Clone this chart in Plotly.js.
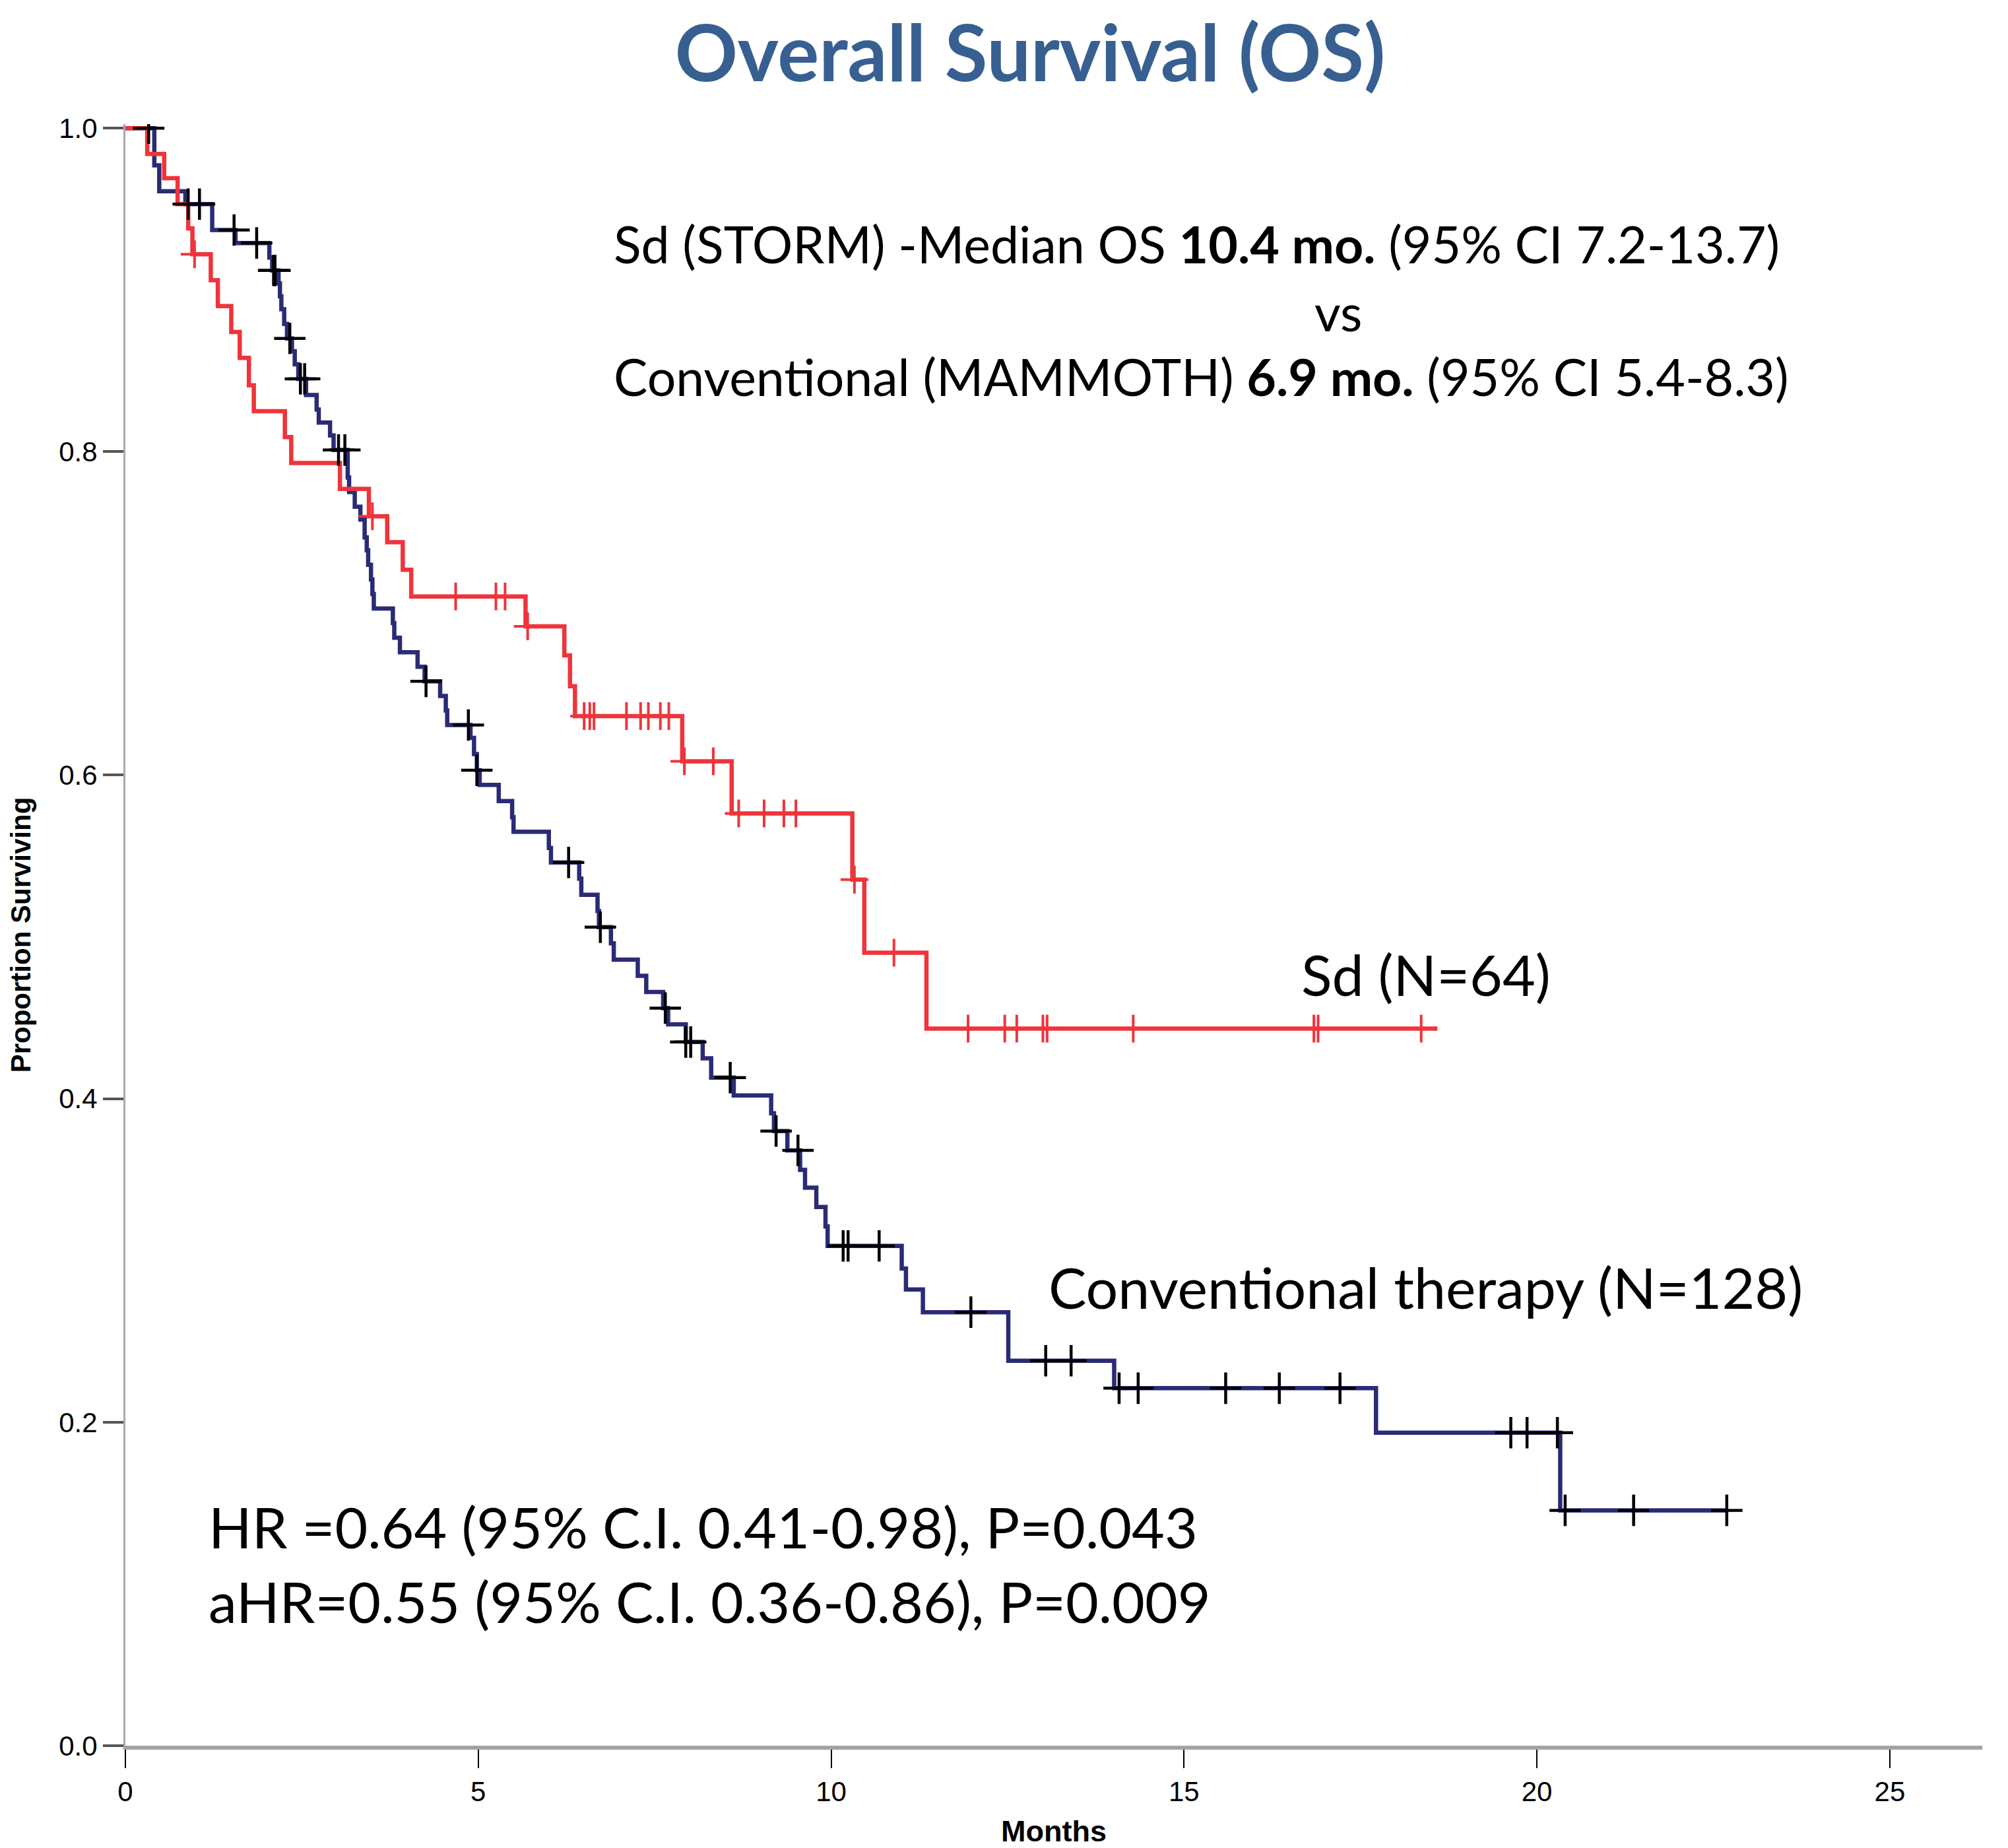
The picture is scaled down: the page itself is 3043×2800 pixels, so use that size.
<!DOCTYPE html>
<html>
<head>
<meta charset="utf-8">
<script src="https://cdn.plot.ly/plotly-3.0.1.min.js"></script>
<style>html,body{margin:0;padding:0;background:#fff}</style>
</head>
<body>
<div id="chart" style="width:3043px;height:2800px"></div>
<script>
// ---- axis ticks ----
const monthTicks = [0, 5, 10, 15, 20, 25];
const monthTickLabels = ['0', '5', '10', '15', '20', '25'];
const survTicks = [0, 0.2, 0.4, 0.6, 0.8, 1.0];
const survTickLabels = ['0.0', '0.2', '0.4', '0.6', '0.8', '1.0'];

// ---- Sd (STORM), N=64 : event times (months) and survival after each step ----
const sdTimes = [0.31, 0.55, 0.74, 0.89, 0.95, 1.21, 1.31, 1.50, 1.62, 1.75, 1.82, 2.26, 2.35,
  3.04, 3.45, 3.71, 3.93, 4.05, 5.67, 6.22, 6.30, 6.37, 7.89, 8.59, 10.30, 10.47, 11.35];
const sdSurv = [0.984, 0.969, 0.953, 0.938, 0.922, 0.906, 0.890, 0.874, 0.858, 0.841, 0.825, 0.809, 0.793,
  0.777, 0.760, 0.744, 0.727, 0.7105, 0.692, 0.674, 0.655, 0.6365, 0.6086, 0.5763, 0.5354, 0.4902, 0.4433];
const sdLastFollowUp = 18.59;
const sdCensorTimes = [0.98, 3.50, 4.68, 5.25, 5.38, 5.70, 6.50, 6.58, 6.64, 7.10, 7.30, 7.41, 7.58, 7.70,
  7.92, 8.33, 8.69, 9.05, 9.33, 9.50, 10.33, 10.89, 11.94, 12.46, 12.63, 13.00, 13.06, 14.28, 16.84, 16.90, 18.36];

// ---- Conventional therapy (MAMMOTH), N=128 ----
const convTimes = [0.41, 0.48, 0.85, 1.23, 1.56, 2.04, 2.08, 2.17, 2.19, 2.21, 2.25, 2.29, 2.36, 2.40, 2.45,
  2.56, 2.71, 2.74, 2.90, 2.95, 3.15, 3.17, 3.25, 3.33, 3.39, 3.42, 3.44, 3.48, 3.50, 3.52,
  3.79, 3.81, 3.89, 4.14, 4.24, 4.46, 4.54, 4.56, 4.89, 4.94, 4.98, 5.02, 5.29, 5.48, 5.50,
  6.00, 6.03, 6.43, 6.46, 6.69, 6.71, 6.88, 6.92, 7.26, 7.38, 7.62, 7.69, 7.94, 8.18, 8.30,
  8.62, 9.15, 9.19, 9.38, 9.56, 9.63, 9.79, 9.92, 9.95, 11.00, 11.06, 11.30, 12.51, 14.01, 17.72, 20.33];
const convSurv = [0.977, 0.961, 0.953, 0.937, 0.929, 0.920, 0.912, 0.904, 0.896, 0.888, 0.879, 0.870, 0.862, 0.854, 0.845,
  0.835, 0.826, 0.818, 0.810, 0.801, 0.784, 0.775, 0.766, 0.758, 0.747, 0.739, 0.730, 0.721, 0.712, 0.703,
  0.694, 0.685, 0.676, 0.667, 0.658, 0.649, 0.640, 0.631, 0.623, 0.613, 0.603, 0.594, 0.584, 0.574, 0.565,
  0.555, 0.546, 0.536, 0.526, 0.516, 0.506, 0.496, 0.486, 0.476, 0.466, 0.456, 0.446, 0.435, 0.425, 0.413,
  0.402, 0.391, 0.380, 0.368, 0.356, 0.345, 0.333, 0.321, 0.309, 0.295, 0.282, 0.268, 0.238, 0.221, 0.1935, 0.1455];
const convLastFollowUp = 22.71;
const convCensorTimes = [0.33, 0.89, 1.05, 1.54, 1.86, 2.10, 2.12, 2.33, 2.48, 2.54, 3.02, 3.11, 4.26, 4.86, 4.98,
  6.28, 6.73, 7.65, 7.94, 8.01, 8.57, 9.22, 9.53, 10.17, 10.24, 10.68, 11.98, 13.04, 13.40,
  14.08, 14.35, 15.59, 16.35, 17.21, 19.63, 19.86, 20.29, 20.40, 21.37, 22.69];

// ---- helpers: build KM step path and look up survival at censor times ----
function stepPath(times, surv, endTime) {
  return { x: [0].concat(times, [endTime]), y: [1].concat(surv, [surv[surv.length - 1]]) };
}
function survAt(times, surv, t) {
  let s = 1;
  for (let i = 0; i < times.length; i++) { if (times[i] <= t) s = surv[i]; }
  return s;
}

const RED = '#EF343B';
const NAVY = '#2A2B76';
const sdPath = stepPath(sdTimes, sdSurv, sdLastFollowUp);
const convPath = stepPath(convTimes, convSurv, convLastFollowUp);

const traces = [
  { x: convPath.x, y: convPath.y, type: 'scatter', mode: 'lines',
    line: { shape: 'hv', color: NAVY, width: 6.5 }, hoverinfo: 'skip', showlegend: false },
  { x: sdPath.x, y: sdPath.y, type: 'scatter', mode: 'lines',
    line: { shape: 'hv', color: RED, width: 6.5 }, hoverinfo: 'skip', showlegend: false },
  { x: sdCensorTimes, y: sdCensorTimes.map(t => survAt(sdTimes, sdSurv, t)), type: 'scatter', mode: 'markers',
    marker: { symbol: 'cross-thin', size: 30, line: { color: RED, width: 4 } }, showlegend: false },
  { x: convCensorTimes, y: convCensorTimes.map(t => survAt(convTimes, convSurv, t)), type: 'scatter', mode: 'markers',
    marker: { symbol: 'cross-thin', size: 34, line: { color: '#000000', width: 4.5 } }, showlegend: false }
];

const ANN_FONT = { family: 'Lato, Calibri, "Open Sans", sans-serif', size: 86, color: '#000000' };
const TOP_FONT = { family: 'Lato, Calibri, "Open Sans", sans-serif', size: 77, color: '#000000' };
const AX_FONT = 'Liberation Sans, Arial, sans-serif';

const layout = {
  width: 3043, height: 2800,
  paper_bgcolor: '#ffffff', plot_bgcolor: '#ffffff',
  margin: { l: 190, r: 39, t: 188, b: 155 },
  title: {
    text: '<b>Overall Survival (OS)</b>',
    font: { family: 'Lato, Calibri, sans-serif', size: 118, color: '#375F92' },
    x: 0.513, xref: 'container', xanchor: 'center',
    y: 0.9707, yref: 'container', yanchor: 'middle'
  },
  xaxis: {
    range: [0, 26.31], tickvals: monthTicks, ticktext: monthTickLabels,
    showgrid: false, zeroline: false, showline: true, linecolor: '#a3a3a3', linewidth: 6,
    ticks: 'outside', ticklen: 28, tickwidth: 2, tickcolor: '#000000',
    tickfont: { family: AX_FONT, size: 42, color: '#000000' },
    title: { text: '<b>Months</b>', font: { family: AX_FONT, size: 45, color: '#000000' }, standoff: 28 },
    fixedrange: true
  },
  yaxis: {
    range: [0, 1.0025], tickvals: survTicks, ticktext: survTickLabels,
    showgrid: false, zeroline: false, showline: true, linecolor: '#a8a8a8', linewidth: 3,
    ticks: 'outside', ticklen: 31, tickwidth: 4, tickcolor: '#555555',
    tickfont: { family: AX_FONT, size: 42, color: '#000000' },
    title: { text: '<b>Proportion Surviving</b>', font: { family: AX_FONT, size: 42, color: '#000000' }, standoff: 30 },
    fixedrange: true
  },
  annotations: [
    { text: 'Sd (STORM) -Median OS <b>10.4 mo.</b> (95% CI 7.2-13.7)', x: 6.90, y: 0.9286, xanchor: 'left', yanchor: 'middle', showarrow: false, font: TOP_FONT },
    { text: 'vs', x: 17.18, y: 0.8866, xanchor: 'center', yanchor: 'middle', showarrow: false, font: TOP_FONT },
    { text: 'Conventional (MAMMOTH) <b>6.9 mo.</b> (95% CI 5.4-8.3)', x: 6.90, y: 0.8466, xanchor: 'left', yanchor: 'middle', showarrow: false, font: TOP_FONT },
    { text: 'Sd (N=64)', x: 16.64, y: 0.477, xanchor: 'left', yanchor: 'middle', showarrow: false, font: ANN_FONT },
    { text: 'Conventional therapy (N=128)', x: 13.06, y: 0.2836, xanchor: 'left', yanchor: 'middle', showarrow: false, font: ANN_FONT },
    { text: 'HR =0.64 (95% C.I. 0.41-0.98), P=0.043', x: 1.16, y: 0.1355, xanchor: 'left', yanchor: 'middle', showarrow: false, font: ANN_FONT },
    { text: 'aHR=0.55 (95% C.I. 0.36-0.86), P=0.009', x: 1.16, y: 0.0894, xanchor: 'left', yanchor: 'middle', showarrow: false, font: ANN_FONT }
  ],
  showlegend: false
};

Plotly.newPlot('chart', traces, layout, { displayModeBar: false, staticPlot: true });
</script>
</body>
</html>
